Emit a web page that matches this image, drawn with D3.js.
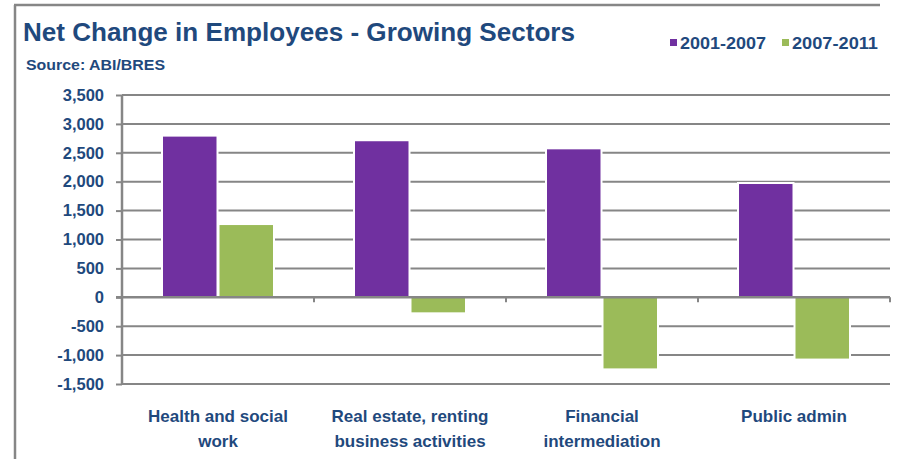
<!DOCTYPE html>
<html>
<head>
<meta charset="utf-8">
<script src="https://cdnjs.cloudflare.com/ajax/libs/d3/7.8.5/d3.min.js"></script>
<style>
  html, body { margin: 0; padding: 0; background: #fff; }
  svg { display: block; font-family: "Liberation Sans", Arial, sans-serif; }
</style>
</head>
<body>
<svg id="chart" width="908" height="459"></svg>
<script>
// Sector categories (two-line labels) and net change in employees per period
const categories = ["Health and social work", "Real estate, renting business activities", "Financial intermediation", "Public admin"];
const categoryLines = [["Health and social", "work"], ["Real estate, renting", "business activities"], ["Financial", "intermediation"], ["Public admin"]];
const seriesNames = ["2001-2007", "2007-2011"];
const values2001_2007 = [2780, 2700, 2560, 1960];
const values2007_2011 = [1250, -260, -1230, -1060];
const yTicks = [-1500, -1000, -500, 0, 500, 1000, 1500, 2000, 2500, 3000, 3500];

const colors = ["#7030A0", "#9BBB59"];
const textColor = "#1F497D";
const gridColor = "#868686";

const svg = d3.select("#chart");

// Outer frame (left and top edges)
svg.append("line").attr("x1", 15).attr("x2", 15).attr("y1", 5).attr("y2", 459)
  .attr("stroke", gridColor).attr("stroke-width", 2.5);
svg.append("line").attr("x1", 14).attr("x2", 880).attr("y1", 5).attr("y2", 5)
  .attr("stroke", gridColor).attr("stroke-width", 2.5);

// Title and source
svg.append("text").attr("x", 23).attr("y", 41)
  .attr("font-size", 25).attr("font-weight", "bold").attr("fill", textColor)
  .attr("textLength", 552).attr("lengthAdjust", "spacingAndGlyphs")
  .text("Net Change in Employees - Growing Sectors");
svg.append("text").attr("x", 26).attr("y", 70)
  .attr("font-size", 15).attr("font-weight", "bold").attr("fill", textColor)
  .attr("textLength", 139).attr("lengthAdjust", "spacingAndGlyphs")
  .text("Source: ABI/BRES");

// Legend
const legendX = [670, 782];
seriesNames.forEach((name, i) => {
  svg.append("rect").attr("x", legendX[i]).attr("y", 39).attr("width", 7).attr("height", 7)
    .attr("fill", colors[i]);
  svg.append("text").attr("x", legendX[i] + 10).attr("y", 49)
    .attr("font-size", 16).attr("font-weight", "bold").attr("fill", textColor)
    .attr("textLength", 86).attr("lengthAdjust", "spacingAndGlyphs")
    .text(name);
});

// Scales
const plot = { left: 122, right: 890, top: 95, bottom: 384 };
const y = d3.scaleLinear().domain([-1500, 3500]).range([plot.bottom, plot.top]);
const x = d3.scaleBand().domain(categories).range([plot.left, plot.right]).padding(0);
const groupWidth = 110;
const barGap = 3;
const xInner = d3.scaleBand().domain(seriesNames).range([0, groupWidth]).padding(0);

// Horizontal gridlines
const grid = svg.append("g");
grid.selectAll("line").data(yTicks.filter(t => t !== 0)).join("line")
  .attr("x1", plot.left).attr("x2", plot.right)
  .attr("y1", d => y(d)).attr("y2", d => y(d))
  .attr("stroke", gridColor).attr("stroke-width", 2);

// Bars: a white halo behind each bar, then the bar itself
const rows = categories.map((c, i) => ({ cat: c, vals: [values2001_2007[i], values2007_2011[i]] }));
const groups = svg.append("g").selectAll("g").data(rows).join("g")
  .attr("transform", d => `translate(${x(d.cat) + (x.bandwidth() - groupWidth) / 2},0)`);
const barData = d => d.vals.map((v, i) => ({ v, s: seriesNames[i], i }));
groups.selectAll("rect.halo").data(barData).join("rect").attr("class", "halo")
  .attr("x", d => xInner(d.s) - 2 + (d.i ? barGap / 2 : 0))
  .attr("width", xInner.bandwidth() - barGap / 2 + 4)
  .attr("y", d => Math.min(y(d.v), y(0)) - 2)
  .attr("height", d => Math.abs(y(d.v) - y(0)) + 4)
  .attr("fill", "#fff");
groups.selectAll("rect.bar").data(barData).join("rect").attr("class", "bar")
  .attr("x", d => xInner(d.s) + (d.i ? barGap / 2 : 0))
  .attr("width", xInner.bandwidth() - barGap / 2)
  .attr("y", d => Math.min(y(d.v), y(0)))
  .attr("height", d => Math.abs(y(d.v) - y(0)))
  .attr("fill", d => colors[d.i]);

// Y axis
const fmt = d3.format(",");
const yAxis = svg.append("g").attr("transform", `translate(${plot.left},0)`)
  .call(d3.axisLeft(y).tickValues(yTicks).tickSize(6).tickPadding(12)
    .tickFormat(d => fmt(d).replace("\u2212", "-")));
yAxis.select(".domain").attr("stroke", gridColor).attr("stroke-width", 2.5).attr("d", `M0,${plot.top}V${plot.bottom}`);
yAxis.selectAll(".tick line").attr("stroke", gridColor).attr("stroke-width", 2);
yAxis.selectAll(".tick text").attr("fill", textColor).attr("font-size", 16.5).attr("font-weight", "bold")
  .attr("font-family", "'Liberation Sans', Arial, sans-serif");

// Zero line with category boundary ticks
const zero = svg.append("g").attr("transform", `translate(0,${y(0)})`);
zero.append("line").attr("x1", plot.left - 6).attr("x2", plot.right).attr("y1", 0).attr("y2", 0)
  .attr("stroke", gridColor).attr("stroke-width", 2.5);
const boundaries = categories.map(c => x(c) + x.bandwidth());
zero.selectAll(".bt").data(boundaries).join("line").attr("class", "bt")
  .attr("x1", d => d).attr("x2", d => d).attr("y1", 0).attr("y2", 5)
  .attr("stroke", gridColor).attr("stroke-width", 2);

// Category labels
const labels = svg.append("g");
categories.forEach((c, i) => {
  const t = labels.append("text")
    .attr("x", x(c) + x.bandwidth() / 2).attr("y", 422)
    .attr("text-anchor", "middle").attr("font-size", 17).attr("font-weight", "bold")
    .attr("fill", textColor);
  categoryLines[i].forEach((line, j) => {
    t.append("tspan").attr("x", x(c) + x.bandwidth() / 2).attr("dy", j === 0 ? 0 : 25).text(line);
  });
});
</script>
</body>
</html>
